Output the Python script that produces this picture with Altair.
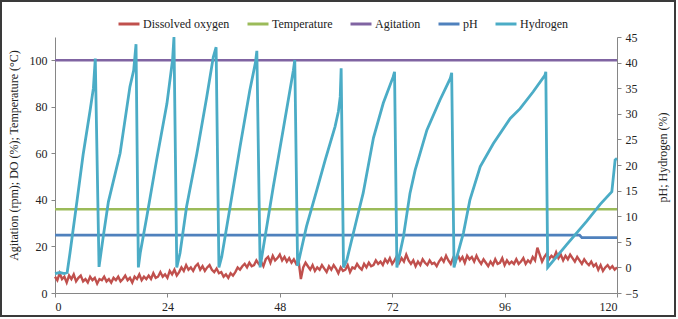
import altair as alt
import pandas as pd

# ---------------- data ----------------
series_names = ["Dissolved oxygen", "Temperature", "Agitation", "pH", "Hydrogen"]
series_colors = ["#C0504D", "#9BBB59", "#8064A2", "#4F81BD", "#4BACC6"]

# dissolved oxygen, read every half hour from 0 h to 120 h
do_v = [
    7, 5.5, 8.5, 6, 7, 4.5, 7.5, 6, 8, 5, 6.5, 7.5, 5, 6, 4.5, 7, 5.5, 6.5, 4, 6, 5.5,
    7, 5, 6, 4.5, 6.5, 5.5, 7, 5, 6, 7.5, 5.5, 6.5, 4.5, 7, 6, 8, 5.5, 7, 6, 7.5,
    6, 8.5, 6.5, 7, 9, 7, 8, 6.5, 9.5, 8, 10, 7.5, 9, 11, 9.5, 12, 10, 11, 9.5, 11.5,
    12.5, 10, 11.5, 9.5, 11, 12, 10, 9, 10.5, 8.5, 9, 7, 8, 6.5, 8.5, 7.5, 9, 11, 10, 11.5,
    12.5, 11, 13, 11.5, 12, 14, 12.5, 13.5, 11.5, 14.5, 15.5, 13, 16, 14, 15, 16.5, 14, 15.5, 13.5, 15,
    13, 14.5, 12.5, 14, 6, 11, 13, 11.5, 10, 12, 9.5, 11, 10, 12, 10.5, 9, 11.5, 10, 12, 10.5,
    8.5, 11, 9.5, 10, 12, 9, 11, 10.5, 12.5, 11, 10, 12.5, 11, 13, 11.5, 12, 14, 12.5, 13.5, 12,
    14.5, 13, 15, 12.5, 14, 16, 13, 15, 13.5, 16.5, 14, 12.5, 14, 11.5, 13.5, 12, 14.5, 13, 12, 14,
    12.5, 13, 11.5, 13.5, 15, 13.5, 16, 14, 12.5, 15, 13.5, 16.5, 14, 15.5, 13, 16, 14.5, 15.5, 13.5, 16,
    14, 12.5, 14.5, 13, 11.5, 13.5, 12, 14.5, 12.5, 13, 15, 12, 14, 12.5, 13.5, 12.5, 14.5, 12.5, 13.5, 15,
    12.5, 14, 13, 15.5, 14, 19.5, 16.5, 13.5, 15.5, 17, 14.5, 16, 15, 17.5, 15, 16.5, 14, 16, 14.5, 16.5,
    15, 13.5, 15.5, 14, 12.5, 14.5, 13, 12, 13.5, 11.5, 12.5, 10, 12, 9.5, 11, 12, 10.5, 11.5, 10, 11,
]
do_t = [i * 0.5 for i in range(len(do_v))]

temp_t = [0, 120]
temp_v = [36, 36]

agit_t = [0, 10, 20, 30, 40, 50, 60, 70, 80, 90, 100, 110, 120]
agit_v = [100, 100, 100, 100, 100, 100, 100, 100, 100, 100, 100, 100, 100]

ph_t = [0, 112, 112.5, 120]
ph_v = [6.3, 6.3, 5.8, 5.8]

h2_t = [0, 1, 2, 2.6, 3.2, 4.7, 6, 7.5, 8.2, 8.6, 9.4,
        10.3, 11.4, 13.9, 16, 16.8, 17.3, 17.8,
        18.2, 19.6, 21.7, 23.9, 25.1, 25.4, 26,
        26.7, 28.1, 30.3, 32.4, 33.8, 34.4, 35,
        35.6, 37.4, 39.5, 41.6, 42.8, 43.1, 43.8,
        44.5, 46.6, 48.7, 50.9, 51.2, 51.8,
        53.7, 55.9, 57.7, 59.8, 60.5, 60.9, 61.1, 61.6,
        62.3, 64.4, 65.8, 68, 70.1, 72.2, 72.5, 73,
        74.4, 75.8, 76.9, 79.4, 82.2, 84.4, 84.7, 85.2,
        87.2, 88.6, 90.8, 93.6, 97.2, 99.3, 102.1, 104.6, 104.8, 105.2,
        109.3, 113.5, 116.4, 118.9, 119.6, 120]
h2_v = [-1.2, -1.0, -1.2, -1.0, 2.8, 13, 22, 30.7, 35, 40.8, 0.1,
        6, 12.8, 22.3, 35.3, 38.5, 43.6, 0,
        2.8, 9.9, 21, 32, 40.5, 45, 0,
        2.8, 11.9, 22.3, 33.3, 41.1, 43, 0,
        2.1, 11.9, 23.5, 34.6, 40, 42.3, 0,
        4, 15.7, 26.8, 38.5, 40.5, 0.3,
        8, 15.1, 21, 27.5, 30.4, 33.3, 38.9, 0,
        1.4, 9.3, 14.5, 25.3, 32.1, 37.2, 38.2, 0,
        6, 14.5, 19, 26.8, 32.7, 36.9, 38, 0,
        6.7, 13.2, 19.7, 24.2, 29.1, 31, 34.3, 37.5, 38.2, 0,
        4.5, 9, 12.3, 14.8, 21, 21.3]

x_ticks = [0, 24, 48, 72, 96, 120]
left_ticks = [0, 20, 40, 60, 80, 100]
right_ticks = [-5, 0, 5, 10, 15, 20, 25, 30, 35, 40, 45]

FONT = "Liberation Serif, Times New Roman, serif"


def frame(ts, vs, name):
    return pd.DataFrame({"t": ts, "v": vs, "series": name})


left_df = pd.concat([frame(do_t, do_v, "Dissolved oxygen"),
                     frame(temp_t, temp_v, "Temperature"),
                     frame(agit_t, agit_v, "Agitation")])
right_df = pd.concat([frame(ph_t, ph_v, "pH"),
                      frame(h2_t, h2_v, "Hydrogen")])

color = alt.Color("series:N",
                  scale=alt.Scale(domain=series_names, range=series_colors),
                  legend=alt.Legend(title=None))
xenc = alt.X("t:Q", scale=alt.Scale(domain=[0, 120], nice=False),
             axis=alt.Axis(values=x_ticks, title=None))

left_y = alt.Y("v:Q", scale=alt.Scale(domain=[0, 110], nice=False, zero=False),
               axis=alt.Axis(values=left_ticks, orient="left",
                             title="Agitation (rpm); DO (%); Temperature (°C)",
                             titleX=-42, titleBaseline="middle", titleAlign="center",
                             titleY=118))
right_y = alt.Y("v:Q", scale=alt.Scale(domain=[-5, 45], nice=False, zero=False),
                axis=alt.Axis(values=right_ticks, orient="right",
                              title="pH; Hydrogen (%)", titleAngle=270,
                              titleX=45, titleBaseline="middle", titleAlign="center",
                              titleY=120))

left = alt.Chart(left_df).mark_line(strokeWidth=2.4).encode(
    x=xenc, y=left_y, color=color, detail="series:N")
right = alt.Chart(right_df).mark_line(strokeWidth=2.8).encode(
    x=xenc, y=right_y, color=color, detail="series:N")

border = alt.Chart(pd.DataFrame({"a": [0]})).mark_rect(
    fill=None, stroke="#3a3a3a", strokeWidth=2).encode(
    x=alt.value(-54), x2=alt.value(620), y=alt.value(-36), y2=alt.value(279))

chart = alt.layer(left, right, border).resolve_scale(y="independent").properties(
    width=562, height=256,
    padding={"left": 55, "top": 37, "right": 61, "bottom": 26},
    autosize=alt.AutoSizeParams(type="none"),
    background="white",
).configure(
    font=FONT,
).configure_view(stroke=None).configure_axis(
    grid=False, domainColor="#868686", tickColor="#868686", tickSize=4,
    labelColor="#222222", titleColor="#222222", titleFontWeight="normal",
    labelFont=FONT, titleFont=FONT, labelFontSize=12, titleFontSize=12,
    labelPadding=4,
).configure_legend(
    orient="none", legendX=62, legendY=-25, direction="horizontal", columns=5,
    symbolType="stroke", symbolSize=441, symbolStrokeWidth=3,
    labelFont=FONT, labelFontSize=12, labelColor="#222222",
    columnPadding=11, labelOffset=2,
)

chart.save("out.html", embed_options={"renderer": "svg", "actions": False})
